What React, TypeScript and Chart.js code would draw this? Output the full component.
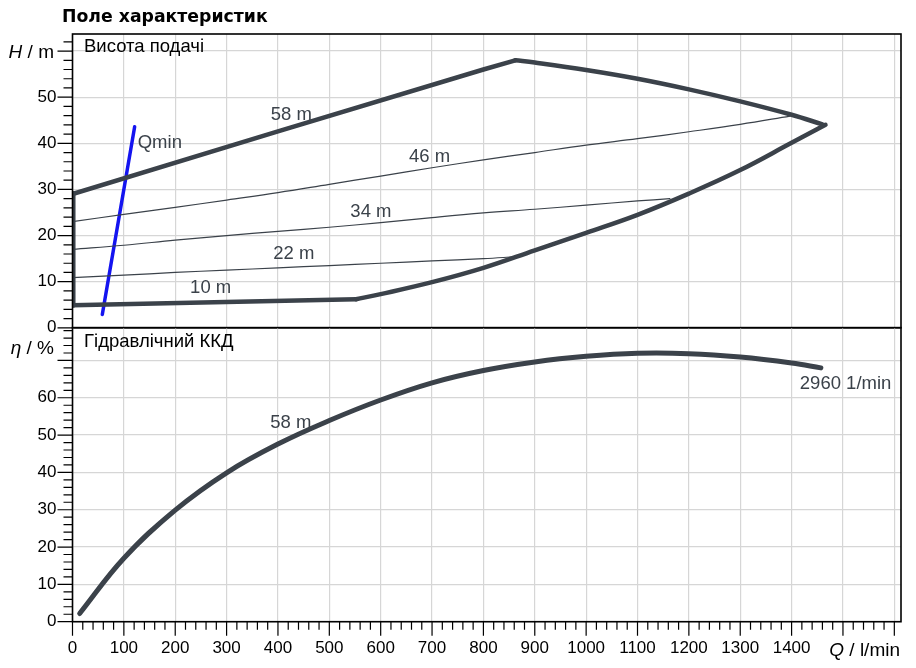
import { useEffect, useRef } from 'react';
import { Chart, registerables } from 'chart.js';
import type { Plugin } from 'chart.js';

Chart.register(...registerables);

const FONT = '"Liberation Sans", Arial, sans-serif';
const CURVE = '#3b424a';
const GRID = '#d6d6d6';

// axis ranges and tick labels
const flowMax = 1613;
const headMax = 63.7;
const effMax = 78.8;
const flowTicks = [0, 100, 200, 300, 400, 500, 600, 700, 800, 900, 1000, 1100, 1200, 1300, 1400, 1500, 1600];
const headTicks = [0, 10, 20, 30, 40, 50, 60];
const effTicks = [0, 10, 20, 30, 40, 50, 60, 70];

// 58 m curve (upper boundary)
const flow58Rise = [0, 400, 800, 862];
const head58Rise = [29.0, 42.6, 56.0, 58.0];
const flow58Fall = [862, 900, 1000, 1100, 1200, 1300, 1400, 1460];
const head58Fall = [58.0, 57.5, 55.9, 54.0, 51.7, 49.1, 46.2, 44.1];

// 10 m curve (lower boundary)
const flow10Flat = [0, 552];
const head10Flat = [4.9, 6.2];
const flow10Rise = [552, 600, 700, 800, 900, 1000, 1100, 1200, 1300, 1400, 1466];
const head10Rise = [6.2, 7.3, 9.9, 13.0, 16.8, 20.6, 24.5, 29.1, 34.2, 40.1, 44.0];

// left edge of the field
const flowLeft = [2, 2];
const headLeft = [4.8, 29.2];

// intermediate heads
const flow46 = [0, 100, 200, 300, 400, 500, 600, 700, 800, 900, 1000, 1100, 1200, 1300, 1397];
const head46 = [23.0, 24.6, 26.1, 27.7, 29.3, 31.1, 32.9, 34.7, 36.4, 38.0, 39.6, 41.0, 42.5, 44.1, 45.9];
const flow34 = [0, 100, 200, 300, 400, 500, 600, 700, 800, 900, 1000, 1100, 1163];
const head34 = [17.0, 17.9, 19.0, 20.0, 20.9, 21.8, 22.8, 23.9, 24.9, 25.7, 26.6, 27.5, 28.0];
const flow22 = [0, 100, 200, 300, 400, 500, 600, 700, 800, 862];
const head22 = [10.9, 11.4, 12.0, 12.5, 13.0, 13.5, 14.0, 14.5, 15.0, 15.4];

// Qmin
const flowQmin = [58, 121];
const headQmin = [2.9, 43.6];

// hydraulic efficiency at 58 m
const flowEff = [14, 100, 200, 300, 400, 500, 600, 700, 800, 900, 1000, 1100, 1200, 1300, 1400, 1457];
const effValues = [2.2, 17, 29.9, 39.9, 47.6, 53.9, 59.4, 64.0, 67.3, 69.6, 71.1, 71.9, 71.8, 70.9, 69.3, 68.0];

type Note = { text: string; x: number; y: number; align?: CanvasTextAlign };

const headNotes: Note[] = [
  { text: '58 m', x: 426, y: 46.2 },
  { text: '46 m', x: 695, y: 37.1 },
  { text: '34 m', x: 581, y: 25.2 },
  { text: '22 m', x: 431, y: 16.0 },
  { text: '10 m', x: 269, y: 8.6 },
  { text: 'Qmin', x: 127, y: 40.0, align: 'left' },
];
const effNotes: Note[] = [
  { text: '58 m', x: 425, y: 53.3 },
  { text: '2960 1/min', x: 1416, y: 63.7, align: 'left' },
];

const pts = (xs: number[], ys: number[]) => xs.map((x, i) => ({ x, y: ys[i] }));

function line(xs: number[], ys: number[], width: number, color = CURVE, tension = 0.4) {
  return {
    data: pts(xs, ys),
    showLine: true,
    borderColor: color,
    borderWidth: width,
    borderCapStyle: 'round' as const,
    borderJoinStyle: 'round' as const,
    pointRadius: 0,
    tension,
  };
}

function axisDecor(id: string, yStep: number, withX: boolean): Plugin {
  return {
    id,
    afterDraw(chart) {
      const { ctx, chartArea: a, scales } = chart;
      const ys = scales.y;
      const xs = scales.x;
      ctx.save();
      ctx.strokeStyle = '#000';
      ctx.lineWidth = 1.2;
      ctx.beginPath();
      for (let v = 0; v <= ys.max + 1e-6; v += yStep) {
        const py = ys.getPixelForValue(v);
        const len = Math.abs(v % 10) < 1e-6 ? 15 : 9;
        ctx.moveTo(a.left - len, py);
        ctx.lineTo(a.left, py);
      }
      if (withX) {
        for (let v = 0; v <= xs.max + 1e-6; v += 20) {
          const px = xs.getPixelForValue(v);
          const len = v % 100 === 0 ? 14 : 8;
          ctx.moveTo(px, a.bottom);
          ctx.lineTo(px, a.bottom + len);
        }
      }
      ctx.stroke();
      ctx.lineWidth = 1.6;
      ctx.strokeRect(a.left, a.top, a.right - a.left, a.bottom - a.top);
      ctx.restore();
    },
  };
}

function notesPlugin(id: string, notes: Note[]): Plugin {
  return {
    id,
    afterDatasetsDraw(chart) {
      const { ctx, scales } = chart;
      ctx.save();
      ctx.font = `18.5px ${FONT}`;
      ctx.textBaseline = 'middle';
      ctx.fillStyle = CURVE;
      notes.forEach((n) => {
        ctx.textAlign = n.align ?? 'center';
        ctx.fillText(n.text, scales.x.getPixelForValue(n.x), scales.y.getPixelForValue(n.y));
      });
      ctx.restore();
    },
  };
}

function buildOptions(yMax: number, yTicks: number[], showX: boolean, padTop: number, xHeight: number) {
  return {
    responsive: false,
    animation: false as const,
    layout: { padding: { left: 0, right: 15, top: padTop, bottom: 0 } },
    plugins: { legend: { display: false }, tooltip: { enabled: false } },
    scales: {
      x: {
        type: 'linear' as const,
        min: 0,
        max: flowMax,
        afterBuildTicks: (s: any) => {
          s.ticks = flowTicks.map((value) => ({ value }));
        },
        afterFit: (s: any) => {
          s.height = xHeight;
        },
        grid: { color: GRID, lineWidth: 1.2, drawTicks: false },
        border: { display: false },
        ticks: {
          display: showX,
          padding: 16,
          color: '#000',
          font: { family: FONT, size: 17 },
          maxRotation: 0,
          autoSkip: false,
          callback: (v: any) => (v <= 1400 ? String(v) : ''),
        },
      },
      y: {
        type: 'linear' as const,
        min: 0,
        max: yMax,
        afterBuildTicks: (s: any) => {
          s.ticks = yTicks.map((value) => ({ value }));
        },
        afterFit: (s: any) => {
          s.width = 72.5;
        },
        grid: { color: GRID, lineWidth: 1.2, drawTicks: false },
        border: { display: false },
        ticks: {
          padding: 16,
          color: '#000',
          font: { family: FONT, size: 17 },
          autoSkip: false,
          callback: (v: any) => (v === yTicks[yTicks.length - 1] ? '' : String(v)),
        },
      },
    },
  };
}

export default function App() {
  const headRef = useRef<HTMLCanvasElement>(null);
  const effRef = useRef<HTMLCanvasElement>(null);

  useEffect(() => {
    if (!headRef.current || !effRef.current) return;

    const headChart = new Chart(headRef.current, {
      type: 'scatter',
      data: {
        datasets: [
          line(flow46, head46, 1.2),
          line(flow34, head34, 1.2),
          line(flow22, head22, 1.2),
          line(flow58Rise, head58Rise, 4.5, CURVE, 0),
          line(flow58Fall, head58Fall, 4.5),
          line(flow10Flat, head10Flat, 4.5, CURVE, 0),
          line(flow10Rise, head10Rise, 4.5),
          line(flowLeft, headLeft, 4, CURVE, 0),
          line(flowQmin, headQmin, 3.5, '#1414f0', 0),
        ],
      },
      // bottom space below the area is reserved by the y labels (half label + padding)
      options: buildOptions(headMax, headTicks, false, 34, 0) as any,
      plugins: [axisDecor('headDecor', 2, false), notesPlugin('headNotes', headNotes)],
    });

    const effChart = new Chart(effRef.current, {
      type: 'scatter',
      data: {
        datasets: [line(flowEff, effValues, 5)],
      },
      options: buildOptions(effMax, effTicks, true, 327.6 - 300, 668 - 621.7) as any,
      plugins: [axisDecor('effDecor', 2, true), notesPlugin('effNotes', effNotes)],
    });

    return () => {
      headChart.destroy();
      effChart.destroy();
    };
  }, []);

  const text = { position: 'absolute' as const, fontFamily: FONT, fontSize: 18.5, lineHeight: '20px', color: '#000', whiteSpace: 'nowrap' as const };

  return (
    <div style={{ position: 'absolute', left: 0, top: 0, width: 916, height: 668, background: '#fff', overflow: 'hidden' }}>
      <canvas ref={headRef} width={916} height={354} style={{ position: 'absolute', left: 0, top: 0 }} />
      <canvas ref={effRef} width={916} height={368} style={{ position: 'absolute', left: 0, top: 300 }} />
      <div style={{ ...text, left: 62, top: 6, fontFamily: '"DejaVu Sans", sans-serif', fontSize: 17.3, fontWeight: 'bold' }}>
        Поле характеристик
      </div>
      <div style={{ ...text, left: 84, top: 36 }}>Висота подачі</div>
      <div style={{ ...text, left: 84, top: 331 }}>Гідравлічний ККД</div>
      <div style={{ ...text, left: 0, width: 54, top: 42, fontSize: 19, textAlign: 'right' }}>
        <i>H</i> / m
      </div>
      <div style={{ ...text, left: 0, width: 54, top: 338, fontSize: 19, textAlign: 'right' }}>
        <i>η</i> / %
      </div>
      <div style={{ ...text, left: 760, width: 140, top: 640, fontSize: 19, textAlign: 'right' }}>
        <i>Q</i> / l/min
      </div>
    </div>
  );
}
